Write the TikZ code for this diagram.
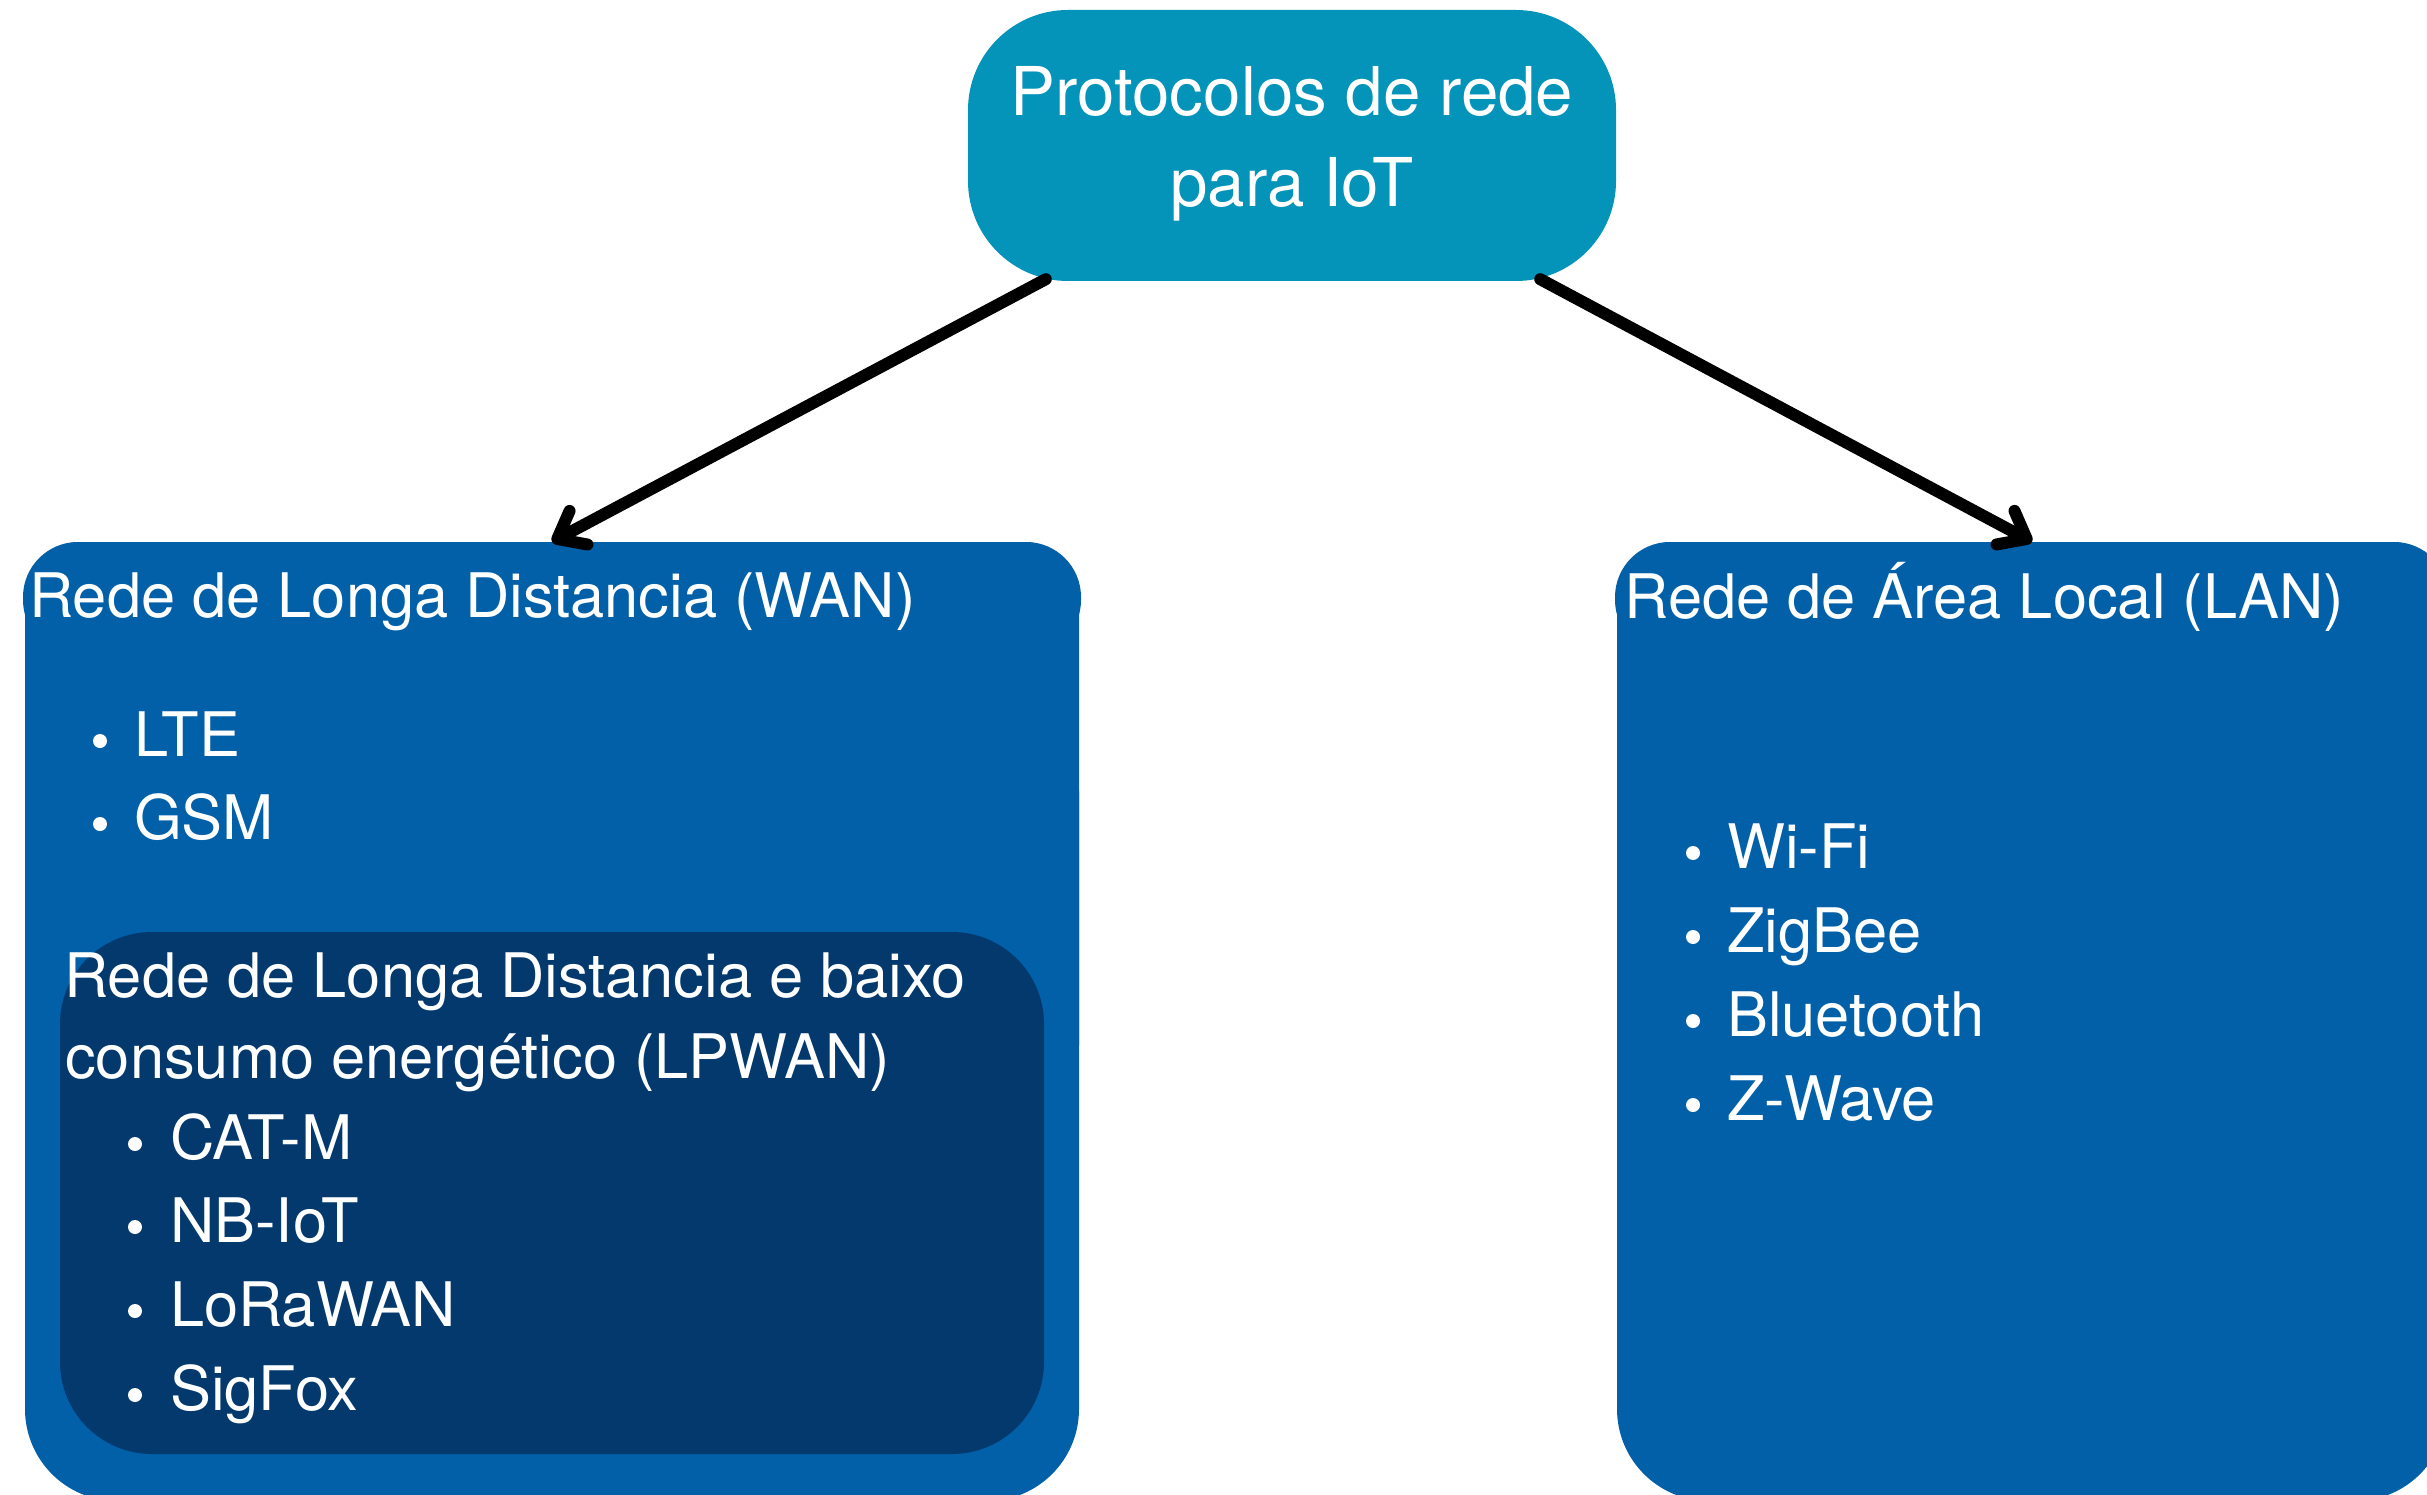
\documentclass[tikz,border=0pt]{standalone}
\usepackage{fontspec}
\setmainfont{TeX Gyre Heros}
\usetikzlibrary{arrows.meta,calc}
\definecolor{topteal}{HTML}{0493B9}
\definecolor{boxblue}{HTML}{0260A9}
\definecolor{mynavy}{HTML}{04396E}
\begin{document}
\begin{tikzpicture}[x=1pt,y=-1pt,
  panel/.style={rectangle, fill=boxblue, draw=none, inner sep=0pt},
  ttl/.style={text=white, inner sep=0pt, anchor=base, font=\fontsize{67.3}{80}\selectfont},
  lbl/.style={text=white, inner sep=0pt, anchor=base west, font=\fontsize{61.4}{72}\selectfont},
  dot/.style={circle, fill=white, draw=none, inner sep=0pt, minimum size=14pt},
  arr/.style={line width=12pt, line cap=round, line join=round,
    -{Straight Barb[length=24pt, width=38pt, line cap=round, line join=round]}}
]
\useasboundingbox (0,0) rectangle (2427,1495);
\fill[white] (0,0) rectangle (2427,1495);

% top node
\node[rectangle, fill=topteal, rounded corners=100pt, minimum width=648pt, minimum height=271pt, inner sep=0pt] (top) at (1292,145.5) {};
\node[ttl] (t1) at (1292,116) {Protocolos de rede};
\node[ttl] (t2) at (1292,207) {para IoT};

% WAN panel
\node[panel, rounded corners=55pt, minimum width=1054pt, minimum height=558pt] (wan) at (552,821) {};
\node[panel, rounded corners=92pt, minimum width=1054pt, minimum height=801pt] (wanlow) at (552,1100.5) {};
\node[panel, rounded corners=55pt, minimum width=1058pt, minimum height=113pt] (wanhead) at (552,598.5) {};

% LAN panel
\node[panel, rounded corners=55pt, minimum width=830pt, minimum height=558pt] (lan) at (2032,821) {};
\node[panel, rounded corners=92pt, minimum width=830pt, minimum height=801pt] (lanlow) at (2032,1100.5) {};
\node[panel, rounded corners=55pt, minimum width=834pt, minimum height=113pt] (lanhead) at (2032,598.5) {};

% LPWAN inner panel
\node[rectangle, fill=mynavy, rounded corners=92pt, minimum width=984pt, minimum height=522pt, inner sep=0pt] (lpwan) at (552,1193) {};

% WAN texts
\node[lbl] (wantitle) at (29,617) {Rede de Longa Distancia (WAN)};
\node[dot] (d1) at (100,741) {};
\node[lbl] (lte) at (134,756) {LTE};
\node[dot] (d2) at (100,824) {};
\node[lbl] (gsm) at (134,839) {GSM};

% LPWAN texts
\node[lbl] (lp1) at (64,997) {Rede de Longa Distancia e baixo};
\node[lbl] (lp2) at (65,1078) {consumo energético (LPWAN)};
\node[dot] (d3) at (135,1144) {};
\node[lbl] (catm) at (170,1159) {CAT-M};
\node[dot] (d4) at (135,1227) {};
\node[lbl] (nbiot) at (170,1242) {NB-IoT};
\node[dot] (d5) at (135,1311) {};
\node[lbl] (lora) at (170,1326) {LoRaWAN};
\node[dot] (d6) at (135,1395) {};
\node[lbl] (sigfox) at (170,1410) {SigFox};

% LAN texts
\node[lbl] (lantitle) at (1624,618) {Rede de Área Local (LAN)};
\node[dot] (d7) at (1693,853) {};
\node[lbl] (wifi) at (1727,868) {Wi-Fi};
\node[dot] (d8) at (1693,937) {};
\node[lbl] (zig) at (1727,952) {ZigBee};
\node[dot] (d9) at (1693,1021) {};
\node[lbl] (bt) at (1727,1036) {Bluetooth};
\node[dot] (d10) at (1693,1105) {};
\node[lbl] (zw) at (1727,1120) {Z-Wave};

% arrows
\coordinate (tl) at ($(top.south west)+(78,-2)$);
\coordinate (tr) at ($(top.south east)+(-76,-2)$);
\draw[arr] (tl) -- (wan.north);
\draw[arr] (tr) -- (lan.north);
\end{tikzpicture}
\end{document}
